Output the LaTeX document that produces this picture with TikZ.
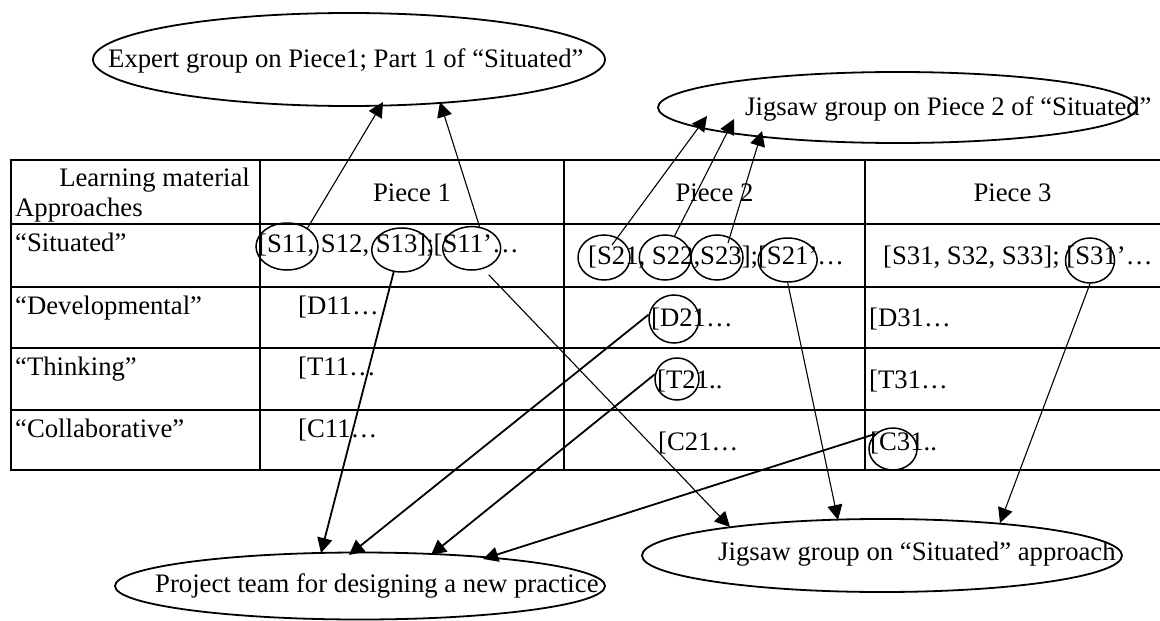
\documentclass[tikz,border=0pt]{standalone}
\usepackage{fontspec}
\setmainfont{Liberation Serif}
\usetikzlibrary{arrows.meta,shapes.geometric,calc}
\begin{document}
\begin{tikzpicture}[x=1pt,y=-1pt,
  txt/.style={inner sep=0pt, font=\fontsize{26.7}{30}\selectfont},
  cell/.style={txt, anchor=base west},
  tbl/.style={line width=2pt, line cap=rect},
  bigell/.style={draw, ellipse, line width=1.8pt, inner sep=0pt},
  circ/.style={draw, ellipse, line width=1.5pt, inner sep=0pt},
  arr/.style={-{Triangle[length=15pt,width=15pt]}, line width=1.1pt},
  arrb/.style={arr, line width=1.8pt}]
\fill[white] (0,0) rectangle (1160,621);
\useasboundingbox (0,0) rectangle (1160,621);

% big ellipses
\node[bigell, minimum width=512pt, minimum height=93pt] (expert) at (349,59.5) {};
\node[cell] (expertT) at (108,67) {Expert group on Piece1; Part 1 of “Situated”};
\node[bigell, minimum width=479pt, minimum height=71pt] (jig2) at (897.5,107.5) {};
\node[cell] (jig2T) at (745,115) {Jigsaw group on Piece 2 of “Situated”};
\node[bigell, minimum width=480pt, minimum height=73pt] (jigS) at (882,555.5) {};
\node[cell] (jigST) at (718,560) {Jigsaw group on “Situated” approach};
\node[bigell, minimum width=490pt, minimum height=67pt] (proj) at (360,586) {};
\node[cell] (projT) at (155,592) {Project team for designing a new practice};

% table
\foreach \yy in {160,224,287,348,410,470} \draw[tbl] (11,\yy) -- (1160,\yy);
\foreach \xx in {11,260,564,865} \draw[tbl] (\xx,160) -- (\xx,470);

% header
\node[txt, anchor=base east] (lm) at (250,186) {Learning material};
\node[cell] (ap) at (15,216) {Approaches};
\node[txt, anchor=base] (p1) at (412,201) {Piece 1};
\node[txt, anchor=base] (p2) at (714.5,201) {Piece 2};
\node[txt, anchor=base] (p3) at (1012.5,201) {Piece 3};

% row labels
\node[cell] (rS) at (15,251) {“Situated”};
\node[cell] (rD) at (15,314) {“Developmental”};
\node[cell] (rT) at (15,375) {“Thinking”};
\node[cell] (rC) at (15,437) {“Collaborative”};

% piece 1 cells
\node[cell] (c1S) at (258,252) {[S11, S12, S13];[S11’…};
\node[cell] (c1D) at (298,314) {[D11…};
\node[cell] (c1T) at (298,375) {[T11…};
\node[cell] (c1C) at (298,437) {[C11…};

% piece 2 cells
\node[cell] (c2S) at (588,264) {[S21, S22,S23];[S21’…};
\node[cell] (c2D) at (651,326) {[D21…};
\node[cell] (c2T) at (657,388) {[T21..};
\node[cell] (c2C) at (658,450) {[C21…};

% piece 3 cells
\node[cell] (c3S) at (883,264) {[S31, S32, S33]; [S31’…};
\node[cell] (c3D) at (869,326) {[D31…};
\node[cell] (c3T) at (869,388) {[T31…};
\node[cell] (c3C) at (870,450) {[C31..};

% small circles
\node[circ, minimum width=62pt, minimum height=47pt] (cS11) at (287,246.5) {};
\node[circ, minimum width=60pt, minimum height=44pt] (cS13) at (401.7,250) {};
\node[circ, minimum width=58pt, minimum height=43.4pt] (cS11p) at (471.7,248.3) {};
\node[circ, minimum width=52pt, minimum height=45pt] (cS2) at (604,257.5) {};
\node[circ, minimum width=51.4pt, minimum height=45pt] (cS22) at (665,257.5) {};
\node[circ, minimum width=52pt, minimum height=45pt] (cS23) at (717,257.5) {};
\node[circ, minimum width=59pt, minimum height=44pt] (cS21p) at (787.7,260) {};
\node[circ, minimum width=49pt, minimum height=45pt] (cS31) at (1090,260.5) {};
\node[circ, minimum width=50pt, minimum height=48pt] (cD21) at (674,319) {};
\node[circ, minimum width=44pt, minimum height=42pt] (cT21) at (677,379) {};
\node[circ, minimum width=48pt, minimum height=42pt] (cC31) at (893,449) {};

% arrow tips
\coordinate (t1) at (383,102);
\coordinate (t2) at (440,102);
\coordinate (t3) at (321,553);
\coordinate (t4) at (730,527);
\coordinate (t5) at (707,116);
\coordinate (t6) at (734,119);
\coordinate (t7) at (762,131);
\coordinate (t8) at (838,520);
\coordinate (t9) at (1000,523);
\coordinate (t10) at (349,555);
\coordinate (t11) at (431,555);
\coordinate (t12) at (483,559);

% connectors
\draw[arr] (cS11.42) -- (t1);
\draw[arr] (cS11p.70) -- (t2);
\draw[arrb] (cS13.-110) -- (t3);
\draw[arr, shorten <=8pt] (cS11p.-61) -- (t4);
\draw[arr] ($(cS2.center)+(8,-12.5)$) -- (t5);
\draw[arr] (cS22.66) -- (t6);
\draw[arr] ($(cS23.center)+(11,-14.5)$) -- (t7);
\draw[arr] (cS21p.south) -- (t8);
\draw[arr] (cS31.south) -- (t9);
\draw[arrb] (cD21.170) -- (t10);
\draw[arrb] (cT21.168) -- (t11);
\draw[arrb] (cC31.140) -- (t12);
\end{tikzpicture}
\end{document}
